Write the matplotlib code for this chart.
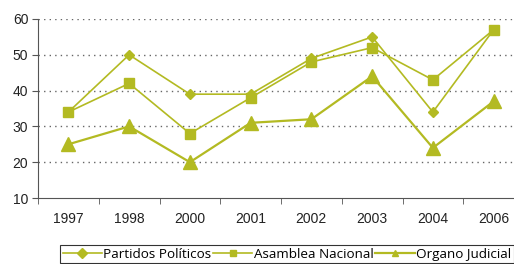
import matplotlib.pyplot as plt
import numpy as np

# === Data ===
years = ["1997", "1998", "2000", "2001", "2002", "2003", "2004", "2006"]
partidos = [34, 50, 39, 39, 49, 55, 34, 57]
asamblea = [34, 42, 28, 38, 48, 52, 43, 57]
organo = [25, 30, 20, 31, 32, 44, 24, 37]

green = "#b3ba22"

fig = plt.figure(figsize=(5.14, 2.64), dpi=100)
ax = fig.add_axes([38 / 514, 66 / 264, 486 / 514, 179 / 264])

x = np.arange(len(years))
ax.plot(x, partidos, color=green, lw=1.2, marker="D", ms=5, label="Partidos Políticos")
ax.plot(x, asamblea, color=green, lw=1.2, marker="s", ms=6.5, label="Asamblea Nacional")
ax.plot(x, organo, color=green, lw=1.6, marker="^", ms=9.5, label="Organo Judicial")

ax.set_xlim(-0.5, len(years) - 0.5)
ax.set_ylim(10, 60)
ax.set_yticks([10, 20, 30, 40, 50, 60])
ax.set_xticks(x)
ax.set_xticklabels(years)
ax.set_xticks(np.arange(-0.5, len(years), 1), minor=True)
ax.tick_params(axis="x", which="major", length=0, pad=10, labelsize=10)
ax.tick_params(axis="x", which="minor", length=4, color="#555555")
ax.tick_params(axis="y", length=4, color="#555555", labelsize=10, pad=3)
for lab in ax.get_xticklabels() + ax.get_yticklabels():
    lab.set_family("Liberation Sans")
    lab.set_color("#222222")

for v in [20, 30, 40, 50, 60]:
    ax.axhline(v, color="#666666", lw=1.0, ls=(0, (1, 3)), zorder=0)

for s in ["top", "right"]:
    ax.spines[s].set_visible(False)
ax.spines["left"].set_color("#555555")
ax.spines["bottom"].set_color("#555555")

leg = fig.legend(loc="upper left", bbox_to_anchor=(60 / 514, 1 - 245 / 264), ncol=3,
                 frameon=True, fancybox=False, edgecolor="black",
                 prop={"family": "Open Sans", "size": 9.7}, handlelength=2.9,
                 handletextpad=0.1, columnspacing=0.15, borderpad=0.2, borderaxespad=0)
leg.get_frame().set_linewidth(0.8)
for h in leg.legend_handles:
    h.set_markersize(5)

fig.savefig("out.png", dpi=100)
